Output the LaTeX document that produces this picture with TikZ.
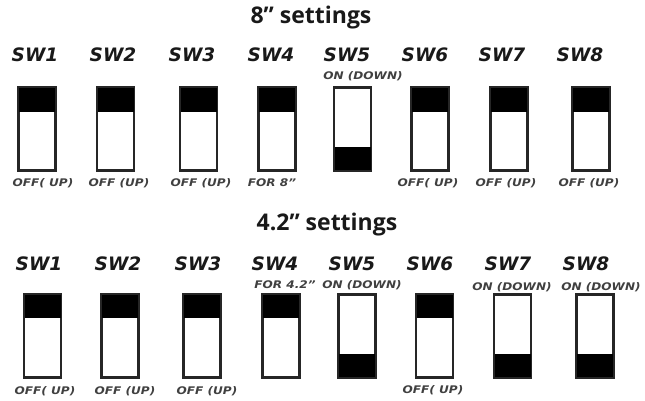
\documentclass[tikz,border=0pt]{standalone}
\usepackage{fontspec}
\setmainfont{Open Sans}
\newfontfamily\dvfont{DejaVu Sans}
\newfontfamily\dvsmall{DejaVu Sans}[FakeStretch=1.15]
\begin{document}
\begin{tikzpicture}[x=1pt,y=-1pt,
  swbox/.style={draw=black!85,line width=1.6pt,minimum width=36pt,minimum height=82pt,inner sep=0pt,fill=white},
  swlabel/.style={font=\dvfont\fontsize{18.5}{18.5}\selectfont\bfseries\itshape,inner sep=0pt,text=black!90},
  small/.style={font=\dvsmall\fontsize{10.5}{10.5}\selectfont\bfseries\itshape,inner sep=0pt,text=black!75},
  title/.style={font=\fontsize{23}{23}\selectfont\bfseries,inner sep=0pt,text=black!90}]
\useasboundingbox (0,0) rectangle (645,400);
% titles
\node[title] (t8) at (311,18) {8” settings};
\node[title] (t42) at (327,225) {4.2” settings};
% top row labels
\foreach \n/\x in {1/35,2/113,3/192,4/271,5/347,6/425,7/502,8/580}
  \node[swlabel] (ta\n) at (\x,55) {SW\n};
\foreach \n/\x in {1/37,2/115.5,3/198.5,4/277,5/352.5,6/430,7/509,8/591}
  \node[swbox] (ts\n) at (\x,129) {};
\foreach \n in {1,2,3,4,6,7,8}
  \fill[black] (ts\n.north west) rectangle ([yshift=-25pt]ts\n.north east);
\fill[black] (ts5.south west) rectangle ([yshift=24pt]ts5.south east);
\foreach \n in {1,...,8}
  \draw[draw=black!85,line width=1.6pt] (ts\n.north west) rectangle (ts\n.south east);
\node[small] (tl1) at (43,183) {OFF( UP)};
\node[small] (tl2) at (119,183) {OFF (UP)};
\node[small] (tl3) at (201,183) {OFF (UP)};
\node[small] (tl4) at (272,183) {FOR 8”};
\node[small] (tl5) at (363,76) {ON (DOWN)};
\node[small] (tl6) at (428,183) {OFF( UP)};
\node[small] (tl7) at (506,183) {OFF (UP)};
\node[small] (tl8) at (589,183) {OFF (UP)};
% bottom row
\foreach \n/\x in {1/39,2/118,3/198,4/275,5/352,6/430,7/508,8/586}
  \node[swlabel] (ba\n) at (\x,264) {SW\n};
\foreach \n/\x in {1/42.5,2/120,3/202,4/281,5/357,6/434.5,7/512.5,8/595}
  \node[swbox] (bs\n) at (\x,336) {};
\foreach \n in {1,2,3,4,6}
  \fill[black] (bs\n.north west) rectangle ([yshift=-24pt]bs\n.north east);
\foreach \n in {5,7,8}
  \fill[black] (bs\n.south west) rectangle ([yshift=24pt]bs\n.south east);
\foreach \n in {1,...,8}
  \draw[draw=black!85,line width=1.6pt] (bs\n.north west) rectangle (bs\n.south east);
\node[small] (bl1) at (45,391) {OFF( UP)};
\node[small] (bl2) at (125,391) {OFF (UP)};
\node[small] (bl3) at (207,391) {OFF (UP)};
\node[small] (bl4) at (285,285) {FOR 4.2”};
\node[small] (bl5) at (362,285) {ON (DOWN)};
\node[small] (bl6) at (433,390) {OFF( UP)};
\node[small] (bl7) at (512,287) {ON (DOWN)};
\node[small] (bl8) at (601,287) {ON (DOWN)};
\end{tikzpicture}
\end{document}
